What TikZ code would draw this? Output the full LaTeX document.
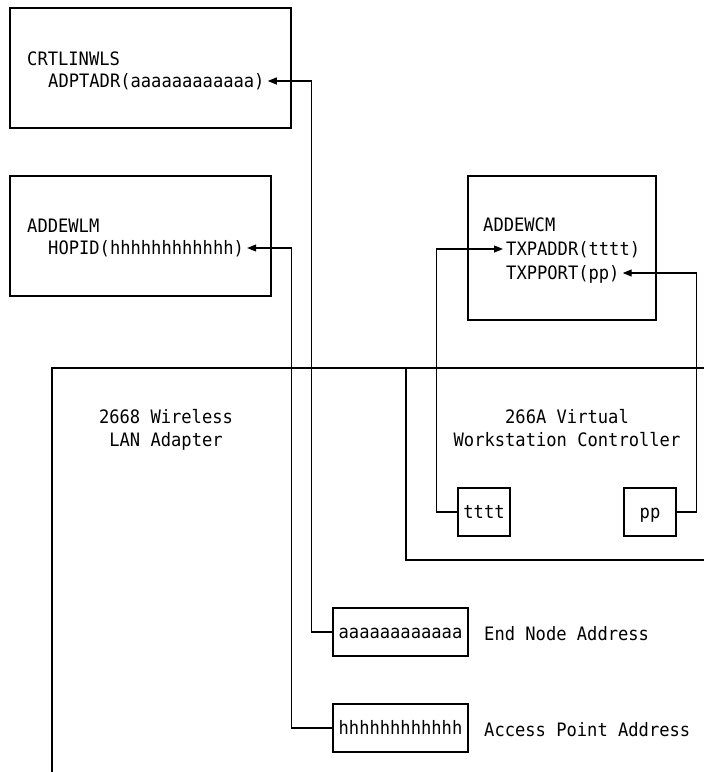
\documentclass[tikz,border=0pt]{standalone}
\usepackage{fontspec}
\newfontfamily\monofam[FakeStretch=0.925]{DejaVu Sans Mono}
\usetikzlibrary{arrows.meta}
\tikzset{
  txt/.style={font=\monofam\fontsize{18.5}{23}\selectfont, inner xsep=3pt, inner ysep=0pt,
              text height=13.5pt, text depth=0pt, anchor=west},
  ctxt/.style={txt, anchor=center},
  frame/.style={draw, line width=1.1pt, inner sep=0pt},
  regbox/.style={frame, font=\monofam\fontsize{18.5}{23}\selectfont, text height=13.5pt, text depth=0pt},
  wire/.style={line width=1.1pt},
  arr/.style={wire, -{Triangle[length=9pt,width=7pt]}},
}
\begin{document}
\begin{tikzpicture}[x=1pt, y=-1pt]
\path[clip] (0,0) rectangle (704,772);

% command boxes
\node[frame, minimum width=281pt, minimum height=120pt] (crt) at (150.5,68) {};
\node[txt] (crtname) at (24,58.5) {CRTLINWLS};
\node[txt] (adptadr) at (45,81) {ADPTADR(aaaaaaaaaaaa)};

\node[frame, minimum width=261pt, minimum height=120pt] (wlm) at (140.5,236) {};
\node[txt] (wlmname) at (24,225.5) {ADDEWLM};
\node[txt] (hopid) at (45,248) {HOPID(hhhhhhhhhhhh)};

\node[frame, minimum width=188pt, minimum height=144pt] (wcm) at (562,248) {};
\node[txt] (wcmname) at (480,225) {ADDEWCM};
\node[txt] (txpaddr) at (503,249) {TXPADDR(tttt)};
\node[txt] (txpport) at (503,273) {TXPPORT(pp)};

% hardware: wireless adapter and virtual controller
\node[frame, minimum width=668pt, minimum height=422pt] (adapter) at (386,579) {};
\node[ctxt] (adaptername) at (166,417) {2668 Wireless};
\node[ctxt] (adaptername2) at (166,440) {LAN Adapter};

\node[frame, minimum width=314pt, minimum height=192pt] (ctrl) at (563,464) {};
\node[ctxt] (ctrlname) at (567,417) {266A Virtual};
\node[ctxt] (ctrlname2) at (567,440) {Workstation Controller};

% registers
\node[regbox, minimum width=52pt, minimum height=48pt] (tttt) at (484,512) {tttt};
\node[regbox, minimum width=52pt, minimum height=48pt] (pp) at (650,512) {pp};
\node[regbox, minimum width=135pt, minimum height=48pt] (aaa) at (400.5,632) {aaaaaaaaaaaa};
\node[regbox, minimum width=135pt, minimum height=48pt] (hhh) at (400.5,728) {hhhhhhhhhhhh};

\node[txt] (endnode) at (481,633.5) {End Node Address};
\node[txt] (accesspt) at (481,729.5) {Access Point Address};

% connectors
\draw[arr] (aaa.west) -- ++(-21,0) |- (adptadr.east);
\draw[arr] (hhh.west) -- ++(-41,0) |- (hopid.east);
\draw[arr] (tttt.west) -- ++(-21,0) |- (txpaddr.west);
\draw[arr] (pp.east) -- ++(20,0) |- (txpport.east);
\end{tikzpicture}
\end{document}
